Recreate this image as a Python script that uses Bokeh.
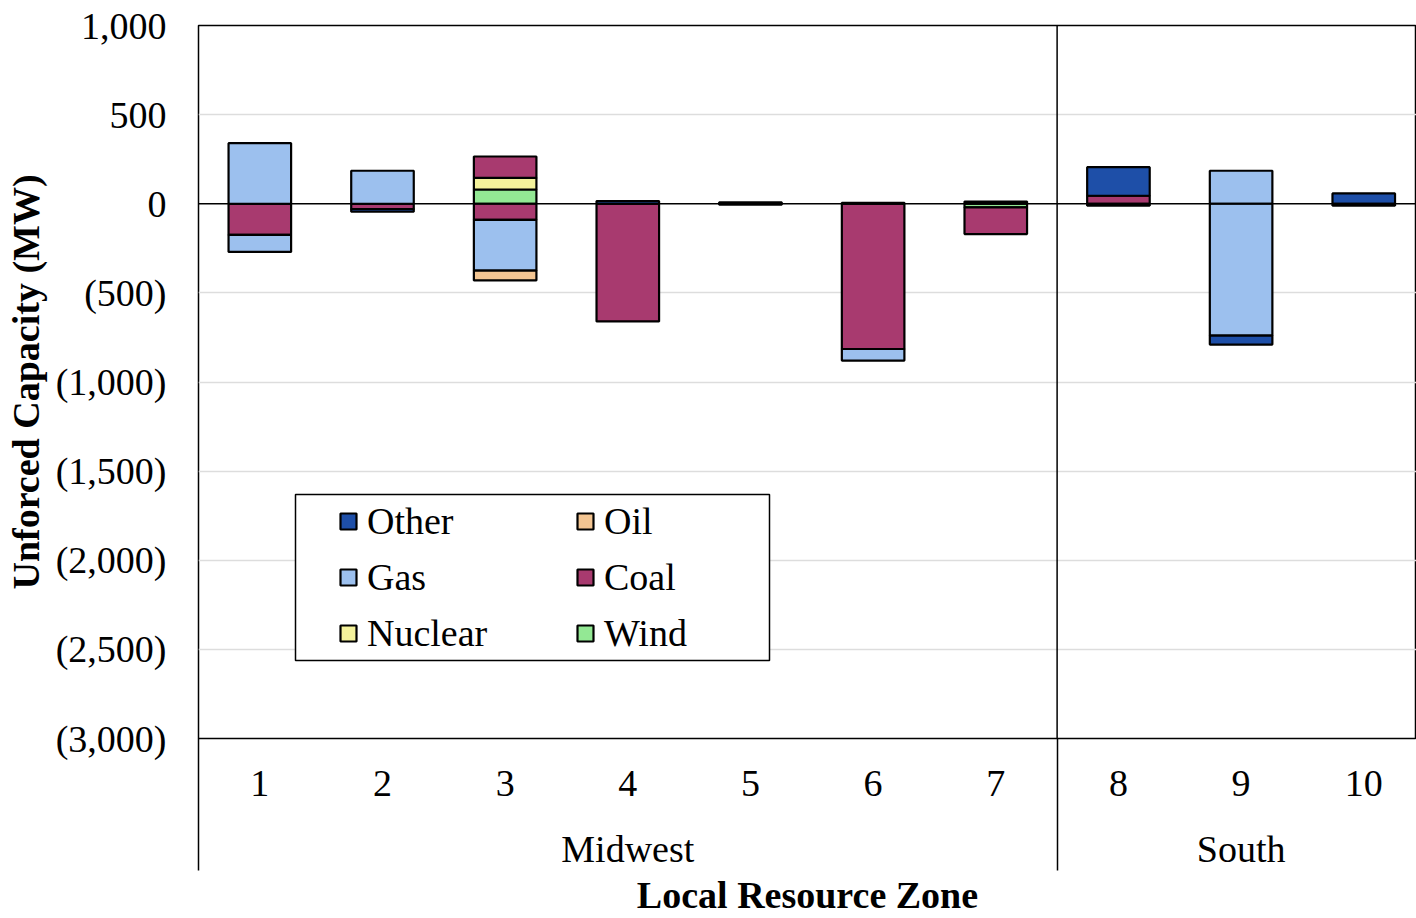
from bokeh.plotting import figure
from bokeh.models import (Range1d, LinearAxis, FixedTicker, Span, Legend, LegendItem,
                          ColumnDataSource, BoxAnnotation)
from bokeh.embed import file_html
from bokeh.resources import INLINE

# ---- data ----
zones = [1, 2, 3, 4, 5, 6, 7, 8, 9, 10]
zone_labels = ["1", "2", "3", "4", "5", "6", "7", "8", "9", "10"]
regions = ["Midwest", "South"]
region_centers = [4, 9]
region_bounds = [0.5, 7.5, 10.5]

# stacking order (from zero outward): Wind, Nuclear, Coal, Gas, Oil, Other
series = ["Wind", "Nuclear", "Coal", "Gas", "Oil", "Other"]
wind_pos    = [0, 0, 80, 0, 0, 0, 0, 0, 0, 0]
wind_neg    = [0, 0, 0, 0, 0, 0, -20, 0, 0, 0]
nuclear_pos = [0, 0, 65, 0, 0, 0, 0, 0, 0, 0]
nuclear_neg = [0, 0, 0, 0, 0, 0, 0, 0, 0, 0]
coal_pos    = [0, 0, 120, 0, 0, 0, 0, 45, 0, 0]
coal_neg    = [-175, -30, -90, -660, -5, -815, -150, -10, 0, 0]
gas_pos     = [340, 185, 0, 0, 0, 0, 0, 0, 185, 0]
gas_neg     = [-95, 0, -285, 0, 0, -65, 0, 0, -740, 0]
oil_pos     = [0, 0, 0, 0, 0, 0, 0, 0, 0, 0]
oil_neg     = [0, 0, -55, 0, 0, 0, 0, 0, 0, 0]
other_pos   = [0, 0, 0, 15, 8, 5, 12, 160, 0, 58]
other_neg   = [0, -15, 0, 0, 0, 0, 0, 0, -50, -10]

pos_vals = {"Wind": wind_pos, "Nuclear": nuclear_pos, "Coal": coal_pos,
            "Gas": gas_pos, "Oil": oil_pos, "Other": other_pos}
neg_vals = {"Wind": wind_neg, "Nuclear": nuclear_neg, "Coal": coal_neg,
            "Gas": gas_neg, "Oil": oil_neg, "Other": other_neg}
colors = {"Other": "#1E4FA8", "Oil": "#F3C592", "Gas": "#9CC0EE",
          "Coal": "#A83A6F", "Nuclear": "#F4F29B", "Wind": "#93E894"}
# legend read row by row: Other, Oil / Gas, Coal / Nuclear, Wind
legend_rows = [["Other", "Oil"], ["Gas", "Coal"], ["Nuclear", "Wind"]]

y_ticks = [1000, 500, 0, -500, -1000, -1500, -2000, -2500, -3000]
y_tick_labels = ["1,000", "500", "0", "(500)", "(1,000)", "(1,500)", "(2,000)", "(2,500)", "(3,000)"]

FONT = "Liberation Serif"
FS = "38px"

p = figure(width=1416, height=918, output_backend="svg", toolbar_location=None,
           x_range=Range1d(0.5, 10.43), y_range=Range1d(-3000, 1000),
           min_border_left=198, min_border_right=0, min_border_top=25, min_border_bottom=0,
           x_axis_location=None, y_axis_location=None)
p.background_fill_color = "white"
p.border_fill_color = "white"
p.outline_line_color = "black"
p.outline_line_width = 1.5
p.xgrid.visible = False
p.ygrid.ticker = FixedTicker(ticks=[500, -500, -1000, -1500, -2000, -2500])
p.ygrid.grid_line_color = "#DDDDDD"
p.ygrid.grid_line_width = 1.5

# bars
renderers = {}
pos_base = [0.0] * len(zones)
neg_base = [0.0] * len(zones)
for s in series:
    xs, bots, tops = [], [], []
    for i, z in enumerate(zones):
        v = pos_vals[s][i]
        if v:
            xs.append(z); bots.append(pos_base[i]); tops.append(pos_base[i] + v)
            pos_base[i] += v
        v = neg_vals[s][i]
        if v:
            xs.append(z); bots.append(neg_base[i]); tops.append(neg_base[i] + v)
            neg_base[i] += v
    src = ColumnDataSource(dict(x=xs, bottom=bots, top=tops))
    renderers[s] = p.vbar(x="x", bottom="bottom", top="top", width=0.51, source=src,
                          fill_color=colors[s], line_color="black", line_width=2.2)

p.add_layout(Span(location=0, dimension="width", line_color="black", line_width=1.5))
p.add_layout(Span(location=7.5, dimension="height", line_color="black", line_width=1.5))

# y axis
yax = LinearAxis(ticker=FixedTicker(ticks=y_ticks),
                 major_label_overrides={t: l for t, l in zip(y_ticks, y_tick_labels)})
yax.axis_line_color = None
yax.major_tick_in = 0
yax.major_tick_out = 0
yax.minor_tick_line_color = None
yax.major_label_standoff = 32
yax.major_label_text_font = FONT
yax.major_label_text_font_size = FS
yax.major_label_text_color = "black"
yax.axis_label = "Unforced Capacity (MW)"
yax.axis_label_text_font = FONT
yax.axis_label_text_font_style = "bold"
yax.axis_label_text_font_size = FS
yax.axis_label_text_color = "black"
yax.axis_label_standoff = 6
p.add_layout(yax, "left")

# x axis: zone numbers, group separators drawn as long outward minor ticks
xax = LinearAxis(ticker=FixedTicker(ticks=zones, minor_ticks=region_bounds),
                 major_label_overrides={z: l for z, l in zip(zones, zone_labels)})
xax.axis_line_color = None
xax.major_tick_in = 0
xax.major_tick_out = 0
xax.minor_tick_in = -132
xax.minor_tick_out = 0
xax.minor_tick_line_color = "black"
xax.minor_tick_line_width = 1.5
xax.major_label_standoff = 32
xax.major_label_text_font = FONT
xax.major_label_text_font_size = FS
xax.major_label_text_color = "black"
p.add_layout(xax, "below")

# x axis: regions + title
rax = LinearAxis(ticker=FixedTicker(ticks=region_centers, minor_ticks=[]),
                 major_label_overrides={c: r for c, r in zip(region_centers, regions)})
rax.axis_line_color = None
rax.major_tick_in = 0
rax.major_tick_out = 0
rax.major_label_standoff = 29
rax.major_label_text_font = FONT
rax.major_label_text_font_size = FS
rax.major_label_text_color = "black"
rax.axis_label = "Local Resource Zone"
rax.axis_label_text_font = FONT
rax.axis_label_text_font_style = "bold"
rax.axis_label_text_font_size = FS
rax.axis_label_text_color = "black"
rax.axis_label_standoff = 1
p.add_layout(rax, "below")

# legend frame (screen px from frame's bottom-left)
p.add_layout(BoxAnnotation(left=97, right=571, bottom=78, top=244,
                           left_units="screen", right_units="screen",
                           bottom_units="screen", top_units="screen",
                           fill_color="white", fill_alpha=1,
                           line_color="black", line_alpha=1, line_width=1.5,
                           level="overlay"))

# Bokeh fills legend columns first, so list the items column by column
col_order = [row[c] for c in range(2) for row in legend_rows]
legend = Legend(items=[LegendItem(label=s, renderers=[renderers[s]]) for s in col_order],
                ncols=2, location=(140, 83))
legend.label_text_font = FONT
legend.label_text_font_size = FS
legend.label_text_color = "black"
legend.glyph_width = 20
legend.glyph_height = 20
legend.label_standoff = 9
legend.label_width = 196
legend.spacing = 12
legend.padding = 8
legend.margin = 0
legend.border_line_color = None
legend.background_fill_alpha = 0
p.add_layout(legend, "center")

open("out.html", "w").write(file_html(p, INLINE))
